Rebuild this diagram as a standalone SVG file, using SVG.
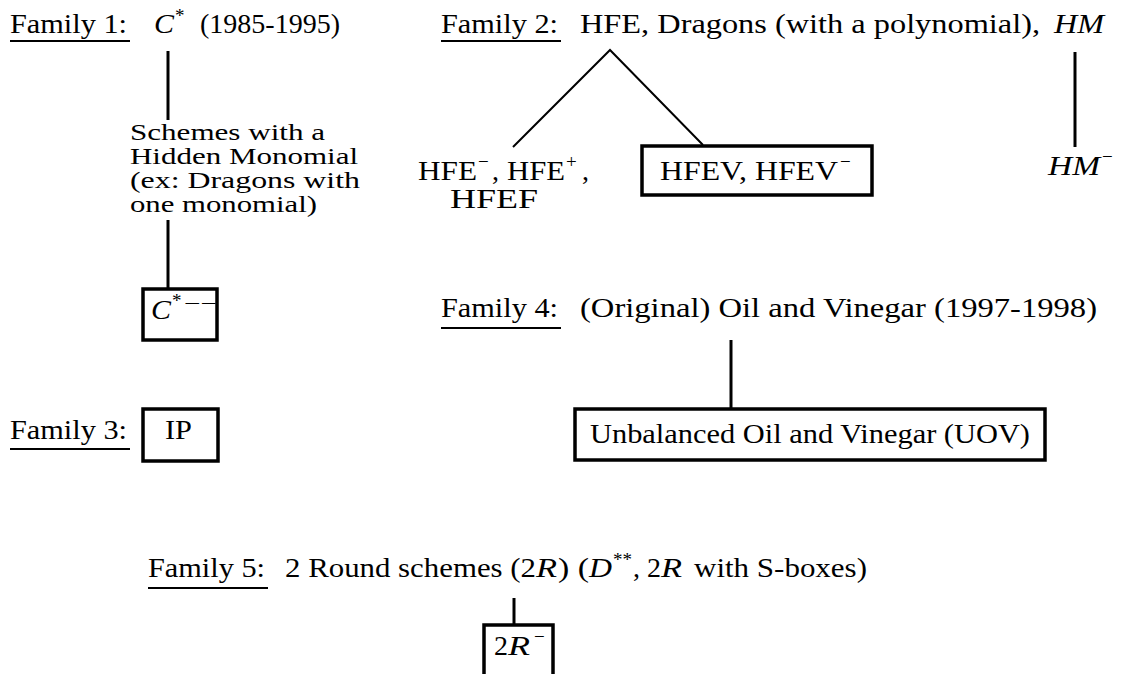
<svg xmlns="http://www.w3.org/2000/svg" width="1123" height="674" viewBox="0 0 1123 674" font-family="'Liberation Serif', 'Times New Roman', serif">
<style>
text{font-family:'Liberation Serif','Times New Roman',serif;font-size:28px;fill:#000}
.it{font-style:italic}
.sup{font-size:19px}
.sm{font-size:24px}
.ul{stroke:#000;stroke-width:2}
.box{fill:none;stroke:#000;stroke-width:3.5}
.conn{stroke:#000;stroke-width:3;fill:none}
.tree{stroke:#000;stroke-width:2;fill:none}
</style>
<rect width="1123" height="674" fill="#fff"/>
<g id="connectors">
<line class="conn" x1="168" y1="51" x2="168" y2="120"/>
<line class="conn" x1="168" y1="220" x2="168" y2="289"/>
<polyline class="tree" points="513,147 610,50 703,145"/>
<line class="conn" x1="1075" y1="52" x2="1075" y2="147"/>
<line class="conn" x1="731" y1="340" x2="731" y2="409"/>
<line class="conn" x1="514" y1="598" x2="514" y2="625"/>
</g>
<g id="family1">
<text x="10" y="33" textLength="117" lengthAdjust="spacingAndGlyphs">Family 1:</text>
<line class="ul" x1="10" y1="41" x2="130" y2="41"/>
<text class="it" x="154" y="33" textLength="20" lengthAdjust="spacingAndGlyphs">C</text>
<text class="sup" x="175" y="22">*</text>
<text x="200" y="33" textLength="140" lengthAdjust="spacingAndGlyphs">(1985-1995)</text>
</g>
<g id="hidden-monomial">
<text class="sm" x="130" y="140" textLength="195" lengthAdjust="spacingAndGlyphs">Schemes with a</text>
<text class="sm" x="130" y="164" textLength="228" lengthAdjust="spacingAndGlyphs">Hidden Monomial</text>
<text class="sm" x="130" y="188" textLength="230" lengthAdjust="spacingAndGlyphs">(ex: Dragons with</text>
<text class="sm" x="130" y="212" textLength="187" lengthAdjust="spacingAndGlyphs">one monomial)</text>
</g>
<g id="cstar-minus">
<rect class="box" x="143" y="289" width="74" height="51"/>
<text class="it" x="151" y="319" textLength="20" lengthAdjust="spacingAndGlyphs">C</text>
<text class="sup" x="172" y="307">*</text>
<text class="sup" x="184" y="310" textLength="33" lengthAdjust="spacingAndGlyphs">−−</text>
</g>
<g id="family2">
<text x="441" y="33" textLength="117" lengthAdjust="spacingAndGlyphs">Family 2:</text>
<line class="ul" x1="441" y1="41" x2="561" y2="41"/>
<text x="580" y="33" textLength="460" lengthAdjust="spacingAndGlyphs">HFE, Dragons (with a polynomial),</text>
<text class="it" x="1054" y="33" textLength="50" lengthAdjust="spacingAndGlyphs">HM</text>
</g>
<g id="hfe-minus">
<text x="418" y="180" textLength="59" lengthAdjust="spacingAndGlyphs">HFE</text>
<text class="sup" x="478" y="168">−</text>
<text x="492" y="180">,</text>
<text x="507" y="180" textLength="58" lengthAdjust="spacingAndGlyphs">HFE</text>
<text class="sup" x="566" y="168">+</text>
<text x="582" y="180">,</text>
<text x="450" y="208" textLength="88" lengthAdjust="spacingAndGlyphs">HFEF</text>
</g>
<g id="hfev">
<rect class="box" x="642" y="146" width="230" height="49"/>
<text x="660" y="180" textLength="178" lengthAdjust="spacingAndGlyphs">HFEV, HFEV</text>
<text class="sup" x="840" y="168">−</text>
</g>
<g id="hm-minus">
<text class="it" x="1048" y="175" textLength="52" lengthAdjust="spacingAndGlyphs">HM</text>
<text class="sup" x="1102" y="163">−</text>
</g>
<g id="family3">
<text x="10" y="439" textLength="117" lengthAdjust="spacingAndGlyphs">Family 3:</text>
<line class="ul" x1="10" y1="449" x2="130" y2="449"/>
</g>
<g id="ip">
<rect class="box" x="143" y="409" width="75" height="52"/>
<text x="165" y="439" textLength="27" lengthAdjust="spacingAndGlyphs">IP</text>
</g>
<g id="family4">
<text x="441" y="317" textLength="117" lengthAdjust="spacingAndGlyphs">Family 4:</text>
<line class="ul" x1="441" y1="328" x2="561" y2="328"/>
<text x="580" y="317" textLength="517" lengthAdjust="spacingAndGlyphs">(Original) Oil and Vinegar (1997-1998)</text>
</g>
<g id="uov">
<rect class="box" x="575" y="409" width="470" height="51"/>
<text x="590" y="443" textLength="440" lengthAdjust="spacingAndGlyphs">Unbalanced Oil and Vinegar (UOV)</text>
</g>
<g id="family5">
<text x="148" y="577" textLength="117" lengthAdjust="spacingAndGlyphs">Family 5:</text>
<line class="ul" x1="148" y1="588" x2="268" y2="588"/>
<text x="285" y="577" textLength="251" lengthAdjust="spacingAndGlyphs">2 Round schemes (2</text>
<text class="it" x="536" y="577" textLength="21" lengthAdjust="spacingAndGlyphs">R</text>
<text x="558" y="577" textLength="31" lengthAdjust="spacingAndGlyphs">) (</text>
<text class="it" x="589" y="577" textLength="23" lengthAdjust="spacingAndGlyphs">D</text>
<text class="sup" x="613" y="566">**</text>
<text x="633" y="577">, 2</text>
<text class="it" x="661" y="577" textLength="21" lengthAdjust="spacingAndGlyphs">R</text>
<text x="694" y="577" textLength="173" lengthAdjust="spacingAndGlyphs">with S-boxes)</text>
</g>
<g id="two-r-minus">
<rect class="box" x="484" y="625" width="69" height="60"/>
<text x="494" y="655">2</text>
<text class="it" x="508" y="655" textLength="22" lengthAdjust="spacingAndGlyphs">R</text>
<text class="sup" x="534" y="643">−</text>
</g>
</svg>
